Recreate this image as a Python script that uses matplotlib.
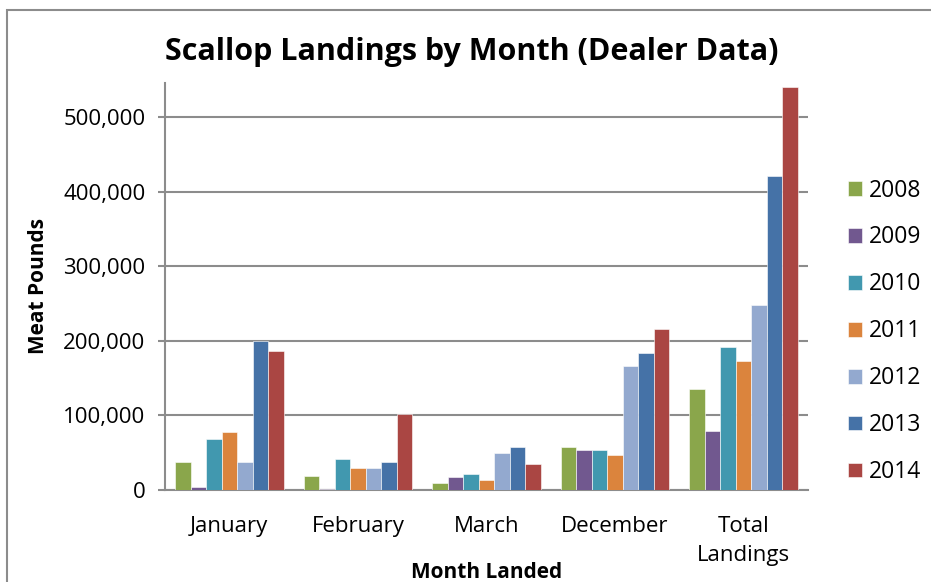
import numpy as np
import matplotlib.pyplot as plt
from matplotlib.patches import Rectangle
from matplotlib.ticker import FuncFormatter

plt.rcParams['font.family'] = ['Open Sans', 'DejaVu Sans']

# categories and series values (meat pounds)
months = ["January", "February", "March", "December", "Total\nLandings"]
years = ["2008", "2009", "2010", "2011", "2012", "2013", "2014"]
v2008 = [37000, 19000, 9000, 58000, 135000]
v2009 = [4500, 1000, 17000, 53000, 79000]
v2010 = [68500, 42000, 21500, 53000, 192000]
v2011 = [78000, 30000, 14000, 47000, 173500]
v2012 = [37000, 30000, 50000, 166000, 248000]
v2013 = [200000, 37000, 58000, 184000, 421000]
v2014 = [187000, 102000, 35000, 216000, 540000]
series = [v2008, v2009, v2010, v2011, v2012, v2013, v2014]
colors = ["#8AA64B", "#71588F", "#4198AF", "#DB843D", "#93A9CF", "#4572A7", "#AA4643"]

W, H = 931, 582
fig = plt.figure(figsize=(W / 100, H / 100), dpi=100)
ax = fig.add_axes([165 / W, 1 - 490 / H, (808 - 165) / W, (490 - 83) / H])

# outer chart frame
fig.patches.append(Rectangle((7 / W, -0.1), 1.2, 1 - 10 / H + 0.1, transform=fig.transFigure,
                             fill=False, edgecolor="#8c8c8c", lw=1.5))

x = np.arange(len(months))
bw = 0.843 / len(years)
for i, (yr, vals) in enumerate(zip(years, series)):
    off = (i - (len(years) - 1) / 2) * bw
    ax.bar(x + off, vals, bw, color=colors[i], label=yr, zorder=3,
           edgecolor="white", linewidth=0.4)

ax.set_xlim(-0.5, len(months) - 0.5)
ax.set_ylim(0, 546000)
ax.set_yticks(np.arange(0, 500001, 100000))
ax.yaxis.set_major_formatter(FuncFormatter(lambda v, p: f"{int(v):,}"))
ax.grid(axis="y", color="#8c8c8c", lw=1.5, zorder=0)
ax.set_axisbelow(True)

for s in ["top", "right"]:
    ax.spines[s].set_visible(False)
for s in ["left", "bottom"]:
    ax.spines[s].set_color("#8c8c8c")
    ax.spines[s].set_linewidth(1.5)

ax.tick_params(axis="y", length=5, width=1.5, color="#8c8c8c", pad=9, labelsize=16)
ax.tick_params(axis="x", length=0, pad=19, labelsize=16)
ax.set_xticks(x)
ax.set_xticklabels(months, linespacing=1.5)

fig.text(472 / W, 1 - 52 / H, "Scallop Landings by Month (Dealer Data)", fontsize=22,
         fontweight="bold", ha="center", va="center")
ax.set_ylabel("Meat Pounds", fontsize=15, fontweight="bold", labelpad=10)
ax.set_xlabel("Month Landed", fontsize=15, fontweight="bold", labelpad=-3)

leg = ax.legend(loc="center left", bbox_to_anchor=(1.03, 0.39), frameon=False,
                fontsize=16.5, handlelength=0.62, handleheight=0.62, handletextpad=0.3,
                labelspacing=1.0)

fig.savefig("out.png", dpi=100)
